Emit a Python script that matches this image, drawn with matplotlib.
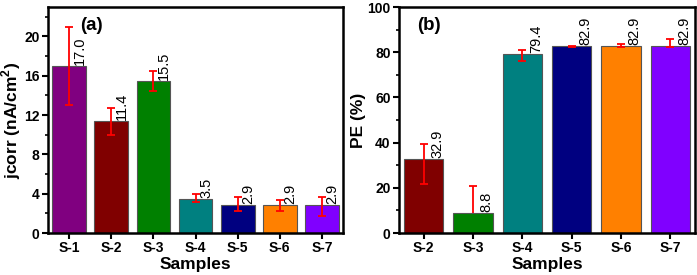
import numpy as np
import matplotlib
matplotlib.use('Agg')
import matplotlib.pyplot as plt
from matplotlib.ticker import MultipleLocator

plt.rcParams['font.family'] = ['Liberation Sans', 'DejaVu Sans']
plt.rcParams['mathtext.fontset'] = 'custom'
plt.rcParams['mathtext.bf'] = 'Liberation Sans:bold'
plt.rcParams['mathtext.rm'] = 'Liberation Sans:bold'

# panel (a): corrosion current density
samples_a = ['S-1', 'S-2', 'S-3', 'S-4', 'S-5', 'S-6', 'S-7']
jcorr = [17.0, 11.4, 15.5, 3.5, 2.9, 2.9, 2.9]
jcorr_lo = [4.0, 1.4, 1.0, 0.37, 0.7, 0.69, 1.17]
jcorr_hi = [4.0, 1.3, 1.0, 0.45, 0.8, 0.47, 0.74]
colors_a = ['#800080', '#800000', '#008000', '#008080', '#000080', '#FF8000', '#8000FF']

# panel (b): protection efficiency
samples_b = ['S-2', 'S-3', 'S-4', 'S-5', 'S-6', 'S-7']
pe = [32.9, 8.8, 79.4, 82.9, 82.9, 82.9]
pe_lo = [11.2, 12.1, 3.2, 0.5, 0.7, 0.7]
pe_hi = [6.3, 12.1, 1.6, 0.0, 0.9, 3.1]
pe_behind = [False, True, False, False, False, False]  # S-3 bar hides lower half
colors_b = ['#800000', '#008000', '#008080', '#000080', '#FF8000', '#8000FF']

fig = plt.figure(figsize=(6.97, 2.75), dpi=100)
ax1 = fig.add_axes([0.0689, 0.1527, 0.4232, 0.8218])
ax2 = fig.add_axes([0.5725, 0.1527, 0.4247, 0.8218])


def draw(ax, names, vals, lo, hi, cols, ymax, major, tag, ylabel, behind=None):
    x = np.arange(len(names))
    w = 0.8
    ax.bar(x, vals, width=w, color=cols, edgecolor='#555555', linewidth=0.8, zorder=2)
    if behind is None:
        behind = [False] * len(names)
    front = [i for i in range(len(names)) if not behind[i]]
    back = [i for i in range(len(names)) if behind[i]]
    for idx, z in ((front, 3), (back, 1)):
        if not idx:
            continue
        ax.errorbar(x[idx], np.array(vals)[idx],
                    yerr=[np.array(lo)[idx], np.array(hi)[idx]],
                    fmt='none', ecolor='red', elinewidth=1.3, capsize=3,
                    capthick=1.3, zorder=z)
    for xi, v in zip(x, vals):
        ax.text(xi + w / 2 + 0.02, v + ymax * 0.003, '%.1f' % v, rotation=90,
                ha='right', va='bottom', fontsize=10.5, zorder=4)
    ax.set_xlim(-0.5, len(names) - 0.5)
    ax.set_ylim(0, ymax)
    ax.set_xticks(x)
    ax.set_xticklabels(names, fontweight='bold', fontsize=10)
    ax.yaxis.set_major_locator(MultipleLocator(major))
    ax.yaxis.set_minor_locator(MultipleLocator(major / 2))
    for lab in ax.get_yticklabels():
        lab.set_fontweight('bold')
        lab.set_fontsize(10)
    ax.tick_params(axis='both', which='major', direction='out', length=4, width=1.5, pad=2)
    ax.tick_params(axis='y', which='minor', direction='out', length=2.5, width=1.2)
    for s in ax.spines.values():
        s.set_linewidth(1.8)
    ax.set_xlabel('Samples', fontsize=12.5, fontweight='bold', labelpad=1)
    ax.set_ylabel(ylabel, fontsize=12.5, fontweight='bold', labelpad=1)
    ax.text(tag[1], 0.92, tag[0], transform=ax.transAxes, fontsize=13.5,
            fontweight='bold', va='center', ha='left')


draw(ax1, samples_a, jcorr, jcorr_lo, jcorr_hi, colors_a, 23, 4,
     ('(a)', 0.11), r'jcorr (nA/cm$^\mathbf{2}$)')
draw(ax2, samples_b, pe, pe_lo, pe_hi, colors_b, 100, 20,
     ('(b)', 0.06), 'PE (%)', behind=pe_behind)

plt.savefig('out.png', dpi=100)
